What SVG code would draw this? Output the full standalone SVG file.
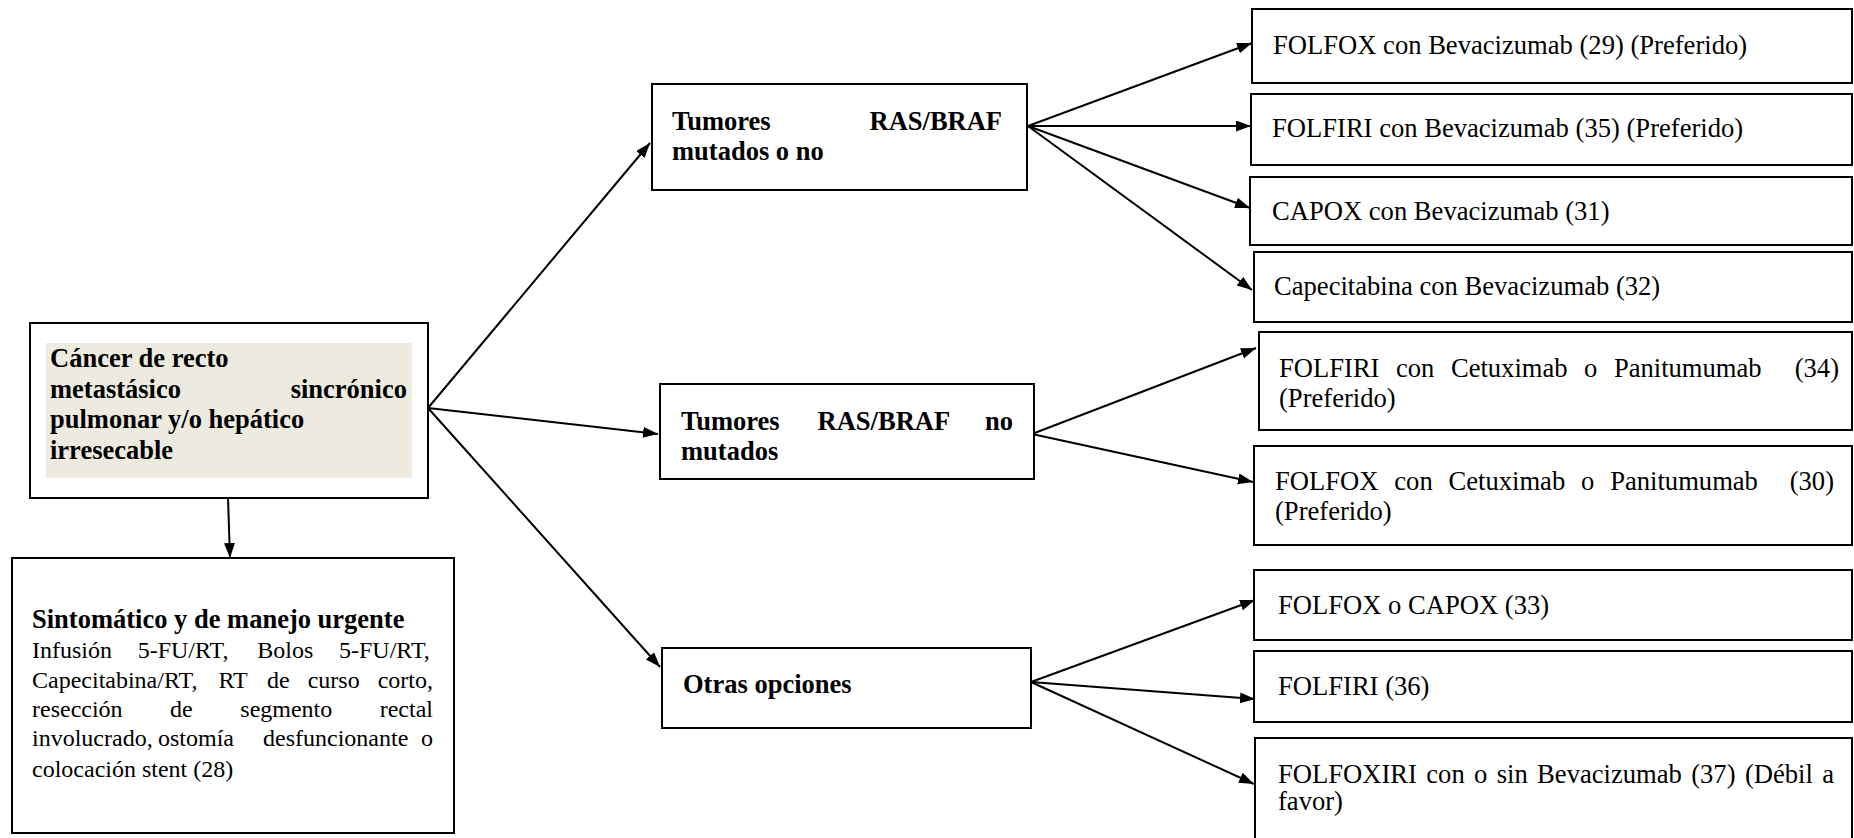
<svg xmlns="http://www.w3.org/2000/svg" width="1854" height="838" viewBox="0 0 1854 838">
<style>
.box{fill:#ffffff;stroke:#000000;stroke-width:2}
.b{font-family:"Liberation Serif","Times New Roman",serif;font-weight:bold;font-size:26.5px;fill:#000}
.r{font-family:"Liberation Serif","Times New Roman",serif;font-size:26.6px;fill:#000}
.s{font-family:"Liberation Serif","Times New Roman",serif;font-size:24px;fill:#000}
.c{fill:none;stroke:#000;stroke-width:2;marker-end:url(#ah)}
</style>
<defs>
<marker id="ah" markerUnits="userSpaceOnUse" markerWidth="16" markerHeight="12" refX="15" refY="5.5" orient="auto">
<path d="M0,0 L15,5.5 L0,11 z" fill="#000"/>
</marker>
</defs>
<rect width="1854" height="838" fill="#ffffff"/>

<g id="connectors">
<line class="c" x1="428" y1="408" x2="650" y2="143"/>
<line class="c" x1="428" y1="408" x2="658" y2="434"/>
<line class="c" x1="428" y1="408" x2="660" y2="667"/>
<line class="c" x1="228" y1="498" x2="230" y2="558"/>
<line class="c" x1="1028" y1="126" x2="1252" y2="43"/>
<line class="c" x1="1028" y1="126" x2="1251" y2="126"/>
<line class="c" x1="1028" y1="126" x2="1250" y2="208"/>
<line class="c" x1="1028" y1="126" x2="1252" y2="290"/>
<line class="c" x1="1032" y1="434" x2="1256" y2="348"/>
<line class="c" x1="1032" y1="434" x2="1253" y2="482"/>
<line class="c" x1="1031" y1="682" x2="1255" y2="600"/>
<line class="c" x1="1031" y1="682" x2="1255" y2="699"/>
<line class="c" x1="1031" y1="682" x2="1254" y2="784"/>
</g>

<g id="root">
<rect class="box" x="30" y="323" width="398" height="175"/>
<rect x="46" y="343" width="366" height="135" fill="#EDEBE0"/>
<text class="b" x="50" y="367">Cáncer de recto</text>
<text class="b" y="397.5"><tspan x="50">metastásico</tspan><tspan x="290.7">sincrónico</tspan></text>
<text class="b" x="50" y="428">pulmonar y/o hepático</text>
<text class="b" x="50" y="458.5">irresecable</text>
</g>

<g id="urgente">
<rect class="box" x="12" y="558" width="442" height="275"/>
<text class="b" x="32" y="628">Sintomático y de manejo urgente</text>
<text class="s" y="658"><tspan x="32">Infusión</tspan><tspan x="137.7">5-FU/RT,</tspan><tspan x="257.3">Bolos</tspan><tspan x="339">5-FU/RT,</tspan></text>
<text class="s" y="688"><tspan x="32">Capecitabina/RT,</tspan><tspan x="218.5">RT</tspan><tspan x="267.1">de</tspan><tspan x="307.7">curso</tspan><tspan x="377.7">corto,</tspan></text>
<text class="s" y="717"><tspan x="32">resección</tspan><tspan x="170.1">de</tspan><tspan x="240.3">segmento</tspan><tspan x="379.7">rectal</tspan></text>
<text class="s" y="746"><tspan x="32">involucrado,</tspan><tspan x="158">ostomía</tspan><tspan x="263">desfuncionante</tspan><tspan x="421">o</tspan></text>
<text class="s" x="32" y="777">colocación stent (28)</text>
</g>

<g id="mutados">
<rect class="box" x="652" y="84" width="375" height="106"/>
<text class="b" y="130"><tspan x="672">Tumores</tspan><tspan x="869.5">RAS/BRAF</tspan></text>
<text class="b" x="672" y="160">mutados o no</text>
</g>

<g id="no-mutados">
<rect class="box" x="660" y="384" width="374" height="95"/>
<text class="b" y="430"><tspan x="681">Tumores</tspan><tspan x="817.6">RAS/BRAF</tspan><tspan x="985">no</tspan></text>
<text class="b" x="681" y="460">mutados</text>
</g>

<g id="otras">
<rect class="box" x="662" y="648" width="369" height="80"/>
<text class="b" x="683" y="693">Otras opciones</text>
</g>

<g id="folfox-bev">
<rect class="box" x="1252" y="9" width="600" height="74"/>
<text class="r" x="1273" y="54">FOLFOX con Bevacizumab (29) (Preferido)</text>
</g>
<g id="folfiri-bev">
<rect class="box" x="1251" y="94" width="601" height="71"/>
<text class="r" x="1272" y="137">FOLFIRI con Bevacizumab (35) (Preferido)</text>
</g>
<g id="capox-bev">
<rect class="box" x="1250" y="177" width="602" height="68"/>
<text class="r" x="1272" y="220">CAPOX con Bevacizumab (31)</text>
</g>
<g id="cape-bev">
<rect class="box" x="1254" y="252" width="598" height="70"/>
<text class="r" x="1274" y="295">Capecitabina con Bevacizumab (32)</text>
</g>
<g id="folfiri-cet">
<rect class="box" x="1259" y="332" width="593" height="98"/>
<text class="r" y="377"><tspan x="1279">FOLFIRI</tspan><tspan x="1396">con</tspan><tspan x="1450.9">Cetuximab</tspan><tspan x="1584.1">o</tspan><tspan x="1613.9">Panitumumab</tspan><tspan x="1794.7">(34)</tspan></text>
<text class="r" x="1279" y="407">(Preferido)</text>
</g>
<g id="folfox-cet">
<rect class="box" x="1254" y="446" width="598" height="99"/>
<text class="r" y="490"><tspan x="1275">FOLFOX</tspan><tspan x="1394.3">con</tspan><tspan x="1448.5">Cetuximab</tspan><tspan x="1581">o</tspan><tspan x="1610.2">Panitumumab</tspan><tspan x="1789.7">(30)</tspan></text>
<text class="r" x="1275" y="520">(Preferido)</text>
</g>
<g id="folfox-capox">
<rect class="box" x="1254" y="570" width="598" height="70"/>
<text class="r" x="1278" y="614">FOLFOX o CAPOX (33)</text>
</g>
<g id="folfiri">
<rect class="box" x="1254" y="651" width="598" height="71"/>
<text class="r" x="1278" y="695">FOLFIRI (36)</text>
</g>
<g id="folfoxiri">
<rect class="box" x="1255" y="738" width="597" height="110"/>
<text class="r" y="783"><tspan x="1278">FOLFOXIRI</tspan><tspan x="1426.3">con</tspan><tspan x="1474">o</tspan><tspan x="1496.7">sin</tspan><tspan x="1537.1">Bevacizumab</tspan><tspan x="1691.2">(37)</tspan><tspan x="1744.9">(Débil</tspan><tspan x="1822.2">a</tspan></text>
<text class="r" x="1278" y="810">favor)</text>
</g>
</svg>
